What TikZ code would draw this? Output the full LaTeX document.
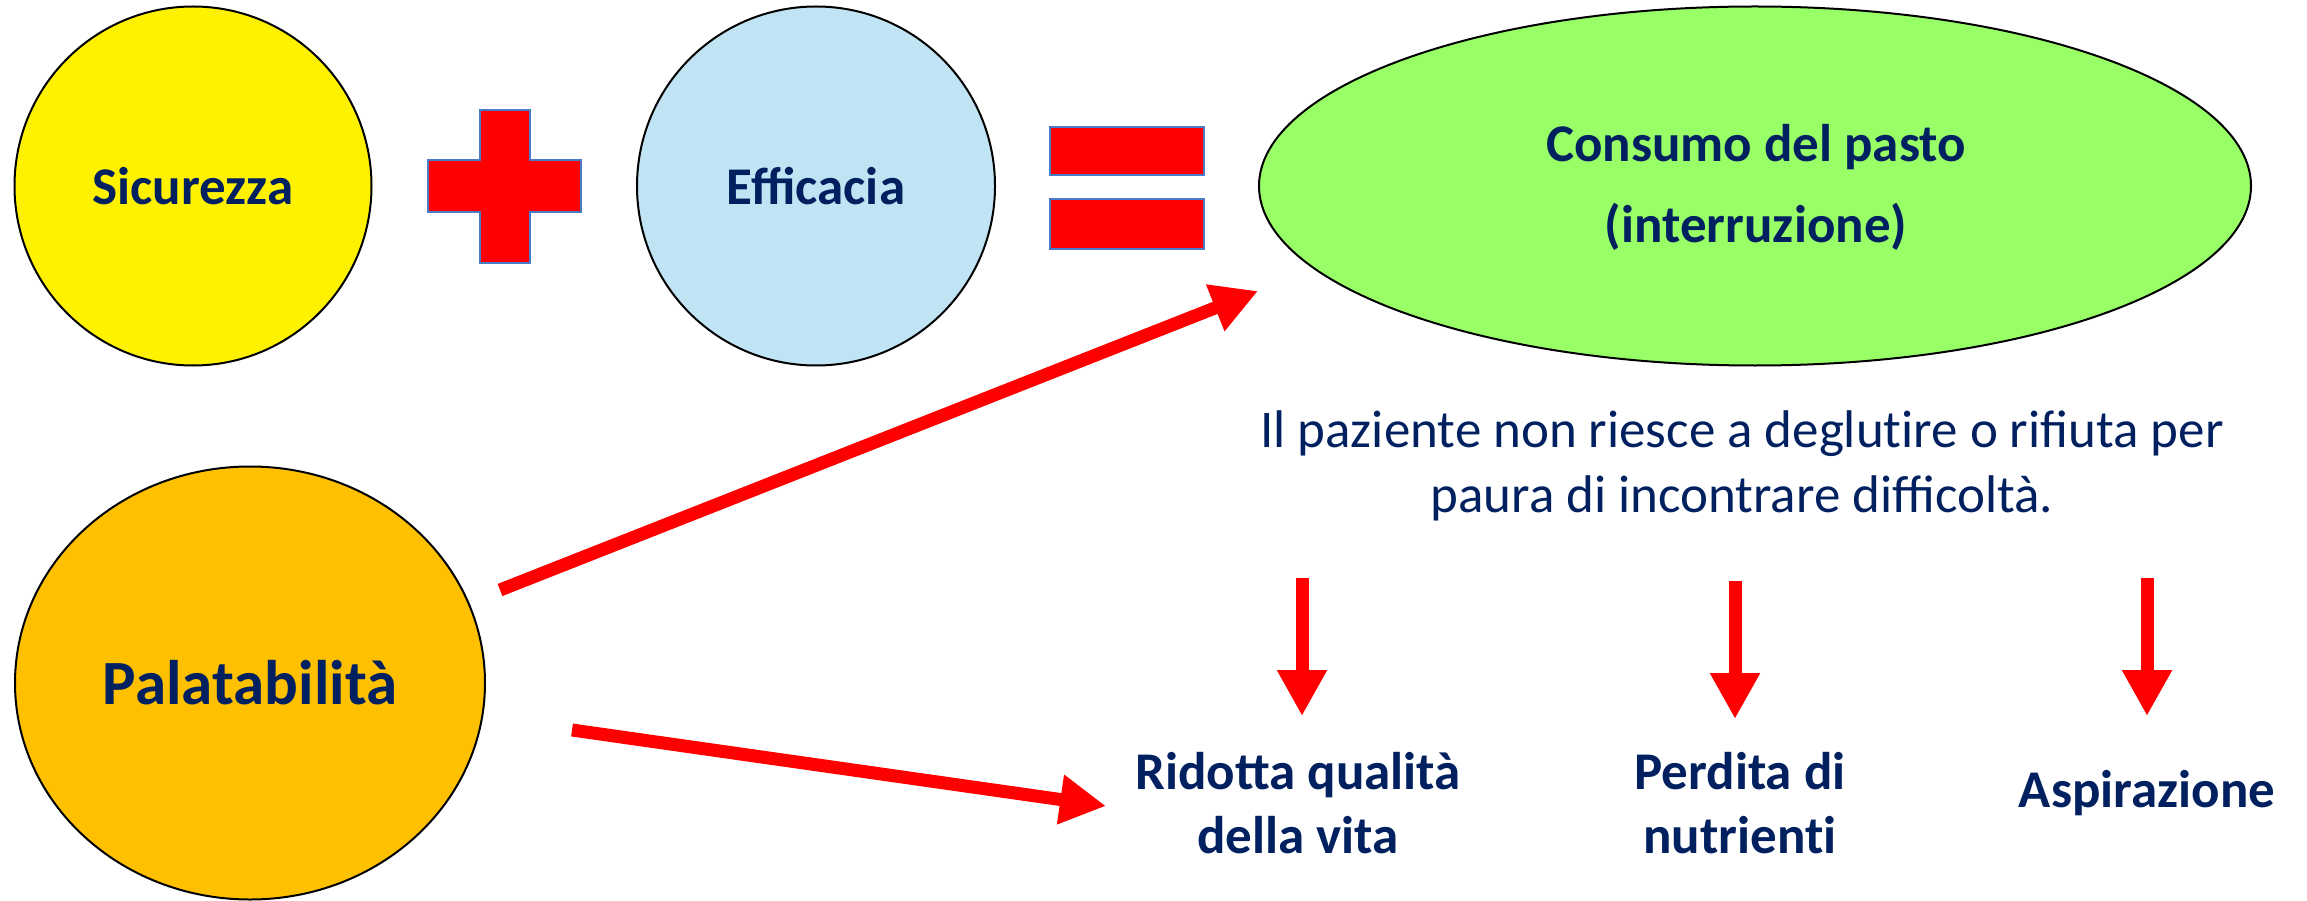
\documentclass[tikz,border=0pt]{standalone}
\usepackage{fontspec}
\setmainfont{Carlito}
\usetikzlibrary{arrows.meta,shapes.geometric}
\definecolor{navy}{HTML}{002060}
\definecolor{signblue}{HTML}{4A7BC8}
\definecolor{lightblue}{HTML}{C0E4F3}
\definecolor{lgreen}{HTML}{99FF66}
\definecolor{orangey}{HTML}{FFC000}
\begin{document}
\begin{tikzpicture}[x=1pt,y=-1pt,
  circ/.style={ellipse, draw=black, line width=2pt, inner sep=0pt, text=navy, font=\bfseries\fontsize{53}{65}\selectfont},
  lbl/.style={text=navy, font=\bfseries\fontsize{53}{64}\selectfont, align=center, anchor=base},
  bigarrow/.style={draw=red, line width=13pt, -{Triangle[length=46pt,width=47pt]}},
  sign/.style={fill=red, draw=signblue, line width=1.5pt}]
\useasboundingbox (0,0) rectangle (2307,901);

% circles
\node[circ, fill=yellow, minimum width=357pt, minimum height=359pt] (sic) at (193,186) {Sicurezza};
\node[circ, fill=lightblue, minimum width=358pt, minimum height=359pt] (eff) at (816,186) {Efficacia};
\node[circ, fill=lgreen, minimum width=992pt, minimum height=359pt] (cons) at (1755,186) {};
\node[lbl, font=\bfseries\fontsize{53}{81}\selectfont] (const) at (1756,243) {Consumo del pasto\\(interruzione)};
\node[circ, fill=orangey, minimum width=470pt, minimum height=433pt, font=\bfseries\fontsize{63}{72}\selectfont] (pal) at (250,683) {Palatabilità};

% plus sign
\draw[sign] (480,110) -- (530,110) -- (530,160) -- (581,160) -- (581,212) -- (530,212) -- (530,263) -- (480,263) -- (480,212) -- (428,212) -- (428,160) -- (480,160) -- cycle;
% equals sign
\draw[sign] (1050,127) rectangle (1204,175);
\draw[sign] (1050,199) rectangle (1204,249);

% description
\node[text=navy, font=\fontsize{53}{65}\selectfont, align=center, anchor=base] (desc) at (1742,512) {Il paziente non riesce a deglut\kern0pt ire o rifiuta per\\paura di incontrare difficoltà.};

% outcome labels
\node[lbl] (rid) at (1298,853) {Ridotta qualità\\della vita};
\node[lbl] (perd) at (1740,853) {Perdita di\\nutrient\kern0pt i};
\node[lbl] (asp) at (2147,807) {Aspirazione};

% arrows
\coordinate (a1s) at (500,590);
\coordinate (a1e) at (1258,291);
\coordinate (a2s) at (572,730);
\coordinate (a2e) at (1106,806);
\draw[bigarrow] (a1s) -- (a1e);
\draw[bigarrow] (a2s) -- (a2e);

\coordinate (d1s) at (1302,578);
\coordinate (d1e) at (1302,716);
\coordinate (d2s) at (1735,581);
\coordinate (d2e) at (1735,719);
\coordinate (d3s) at (2147,578);
\coordinate (d3e) at (2147,716);
\draw[bigarrow] (d1s) -- (d1e);
\draw[bigarrow] (d2s) -- (d2e);
\draw[bigarrow] (d3s) -- (d3e);
\end{tikzpicture}
\end{document}
